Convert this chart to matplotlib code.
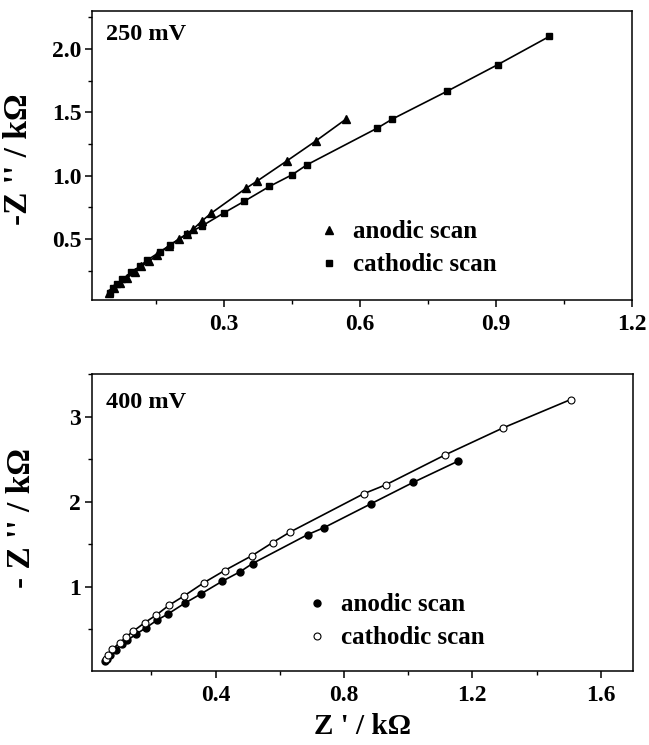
import matplotlib
matplotlib.use("Agg")
import matplotlib.pyplot as plt
from matplotlib.ticker import MultipleLocator, FormatStrFormatter

plt.rcParams['font.family'] = ['Liberation Serif', 'DejaVu Serif']
plt.rcParams['font.weight'] = 'bold'

# ---- 250 mV panel ----
top_anodic_x = [0.047, 0.057, 0.071, 0.085, 0.103, 0.117, 0.135, 0.153, 0.179, 0.200,
                0.219, 0.232, 0.252, 0.272, 0.349, 0.372, 0.438, 0.503, 0.569]
top_anodic_y = [0.075, 0.114, 0.153, 0.193, 0.237, 0.285, 0.324, 0.377, 0.448, 0.500,
                0.542, 0.579, 0.645, 0.705, 0.902, 0.955, 1.115, 1.275, 1.446]
top_cathodic_x = [0.049, 0.055, 0.065, 0.076, 0.095, 0.114, 0.130, 0.158, 0.180, 0.218,
                  0.252, 0.299, 0.344, 0.400, 0.450, 0.483, 0.638, 0.671, 0.791, 0.903, 1.017]
top_cathodic_y = [0.075, 0.114, 0.148, 0.185, 0.237, 0.285, 0.332, 0.398, 0.450, 0.540,
                  0.605, 0.705, 0.797, 0.915, 1.007, 1.086, 1.375, 1.446, 1.664, 1.874, 2.097]

# ---- 400 mV panel ----
bot_anodic_x = [0.055, 0.060, 0.071, 0.089, 0.107, 0.125, 0.153, 0.182, 0.218, 0.253,
                0.303, 0.355, 0.421, 0.476, 0.515, 0.687, 0.738, 0.883, 1.016, 1.156]
bot_anodic_y = [0.129, 0.156, 0.199, 0.258, 0.324, 0.371, 0.445, 0.516, 0.609, 0.684,
                0.805, 0.918, 1.066, 1.176, 1.273, 1.613, 1.695, 1.973, 2.227, 2.477]
bot_cathodic_x = [0.058, 0.065, 0.078, 0.102, 0.122, 0.143, 0.179, 0.215, 0.254, 0.301,
                  0.363, 0.428, 0.514, 0.578, 0.631, 0.862, 0.931, 1.116, 1.296, 1.506]
bot_cathodic_y = [0.150, 0.200, 0.266, 0.344, 0.414, 0.477, 0.578, 0.668, 0.781, 0.891,
                  1.047, 1.191, 1.367, 1.520, 1.641, 2.094, 2.199, 2.551, 2.867, 3.199]

labels = ["anodic scan", "cathodic scan"]
top_title = "250 mV"
bot_title = "400 mV"

fig = plt.figure(figsize=(6.49, 7.45), dpi=100)
ax1 = fig.add_axes([0.1425, 0.5973, 0.8317, 0.3883])
ax2 = fig.add_axes([0.1419, 0.0993, 0.8331, 0.3987])

lw = 1.2
ax1.plot(top_anodic_x, top_anodic_y, '-', color='black', lw=lw, marker='^', ms=6,
         mfc='black', mec='black', label=labels[0])
ax1.plot(top_cathodic_x, top_cathodic_y, '-', color='black', lw=lw, marker='s', ms=4.5,
         mfc='black', mec='black', label=labels[1])

ax2.plot(bot_anodic_x, bot_anodic_y, '-', color='black', lw=lw, marker='o', ms=5,
         mfc='black', mec='black', label=labels[0])
ax2.plot(bot_cathodic_x, bot_cathodic_y, '-', color='black', lw=lw, marker='o', ms=5,
         mfc='white', mec='black', mew=0.8, label=labels[1])

ax1.set_xlim(0.01, 1.2)
ax1.set_ylim(0.02, 2.3)
ax1.xaxis.set_major_locator(MultipleLocator(0.3))
ax1.xaxis.set_minor_locator(MultipleLocator(0.15))
ax1.yaxis.set_major_locator(MultipleLocator(0.5))
ax1.yaxis.set_minor_locator(MultipleLocator(0.25))
ax1.xaxis.set_major_formatter(FormatStrFormatter('%.1f'))
ax1.yaxis.set_major_formatter(FormatStrFormatter('%.1f'))

ax2.set_xlim(0.015, 1.7)
ax2.set_ylim(0.01, 3.5)
ax2.xaxis.set_major_locator(MultipleLocator(0.4))
ax2.xaxis.set_minor_locator(MultipleLocator(0.2))
ax2.yaxis.set_major_locator(MultipleLocator(1))
ax2.yaxis.set_minor_locator(MultipleLocator(0.5))
ax2.xaxis.set_major_formatter(FormatStrFormatter('%.1f'))
ax2.yaxis.set_major_formatter(FormatStrFormatter('%.0f'))

for ax in (ax1, ax2):
    for s in ax.spines.values():
        s.set_linewidth(1.1)
    ax.tick_params(which='major', direction='out', length=5, width=1.1,
                   labelsize=17)
    ax.tick_params(axis='y', which='major', pad=3)
    ax.tick_params(axis='x', which='major', pad=5)
    ax.tick_params(which='minor', direction='out', length=3, width=1.0)

ax1.set_ylabel("-Z '' / kΩ", fontsize=24, fontweight='bold')
ax2.set_ylabel("- Z '' / kΩ", fontsize=24, fontweight='bold')
ax2.set_xlabel("Z ' / kΩ", fontsize=21, fontweight='bold', labelpad=5)
ax1.yaxis.set_label_coords(-0.108, 0.487)
ax2.yaxis.set_label_coords(-0.102, 0.515)

ax1.text(0.025, 0.955, top_title, transform=ax1.transAxes, fontsize=17.5,
         fontweight='bold', va='top', ha='left')
ax2.text(0.025, 0.94, bot_title, transform=ax2.transAxes, fontsize=17.5,
         fontweight='bold', va='top', ha='left')

def add_legend(ax, x, y):
    leg = ax.legend(loc='upper left', bbox_to_anchor=(x, y), frameon=False,
                    prop={'family': 'Liberation Serif', 'weight': 'bold', 'size': 18},
                    handlelength=0.6, handletextpad=0.65, labelspacing=0.4,
                    borderpad=0, borderaxespad=0)
    for ln in leg.get_lines():
        ln.set_linestyle('None')
    return leg

add_legend(ax1, 0.425, 0.275)
add_legend(ax2, 0.403, 0.261)

fig.savefig("out.png", dpi=100)
